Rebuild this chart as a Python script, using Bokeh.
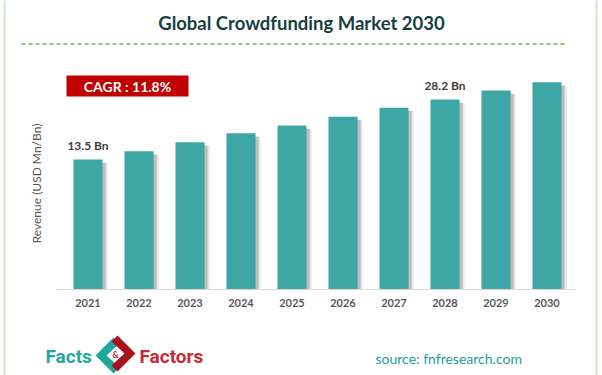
from bokeh.plotting import figure
from bokeh.models import (ColumnDataSource, Range1d, Label, LabelSet, BoxAnnotation,
                          PolyAnnotation)
from bokeh.core.properties import value
from bokeh.transform import dodge
from bokeh.embed import file_html
from bokeh.resources import INLINE

# ---- data ----
years = ["2021", "2022", "2023", "2024", "2025", "2026", "2027", "2028", "2029", "2030"]
revenue = [13.5, 15.5, 17.7, 19.9, 21.8, 24.0, 26.2, 28.2, 30.4, 32.4]
label_years = ["2021", "2028"]
label_values = [13.5, 28.2]
label_texts = ["13.5 Bn", "28.2 Bn"]
axis_start = -18.35          # value at the baseline of the value axis
title_text = "Global Crowdfunding Market 2030"
cagr_text = "CAGR : 11.8%"
y_label = "Revenue (USD Mn/Bn)"
source_text = "source: fnfresearch.com"

W, H = 602, 375
FONT = "Lato"
X0, X1 = -1.7157, 10.0882
Y0, Y1 = -39.42, 52.45

def cx(px):  # canvas pixel -> x data (frame covers the canvas)
    return X0 + px / W * (X1 - X0)

def cy(py):  # canvas pixel (from top) -> y data
    return Y1 - py / H * (Y1 - Y0)

# category index for each year (bars placed by the x scale)
idx = list(range(len(years)))
label_idx = [years.index(y) for y in label_years]

p = figure(width=W, height=H, x_range=Range1d(X0, X1), y_range=Range1d(Y0, Y1),
           output_backend="svg", toolbar_location=None,
           min_border=0, x_axis_type=None, y_axis_type=None)
p.outline_line_color = None
p.background_fill_color = "white"
p.border_fill_color = "white"
p.xgrid.grid_line_color = None
p.ygrid.grid_line_color = None

src = ColumnDataSource(dict(x=idx, value=revenue, year=years))
# soft shadow to the right of each bar
p.vbar(x=dodge("x", 0.1), top=dodge("value", -0.8), bottom=axis_start, width=0.57, source=src,
       fill_color="#b0b0b0", fill_alpha=0.3, line_color=None)
p.vbar(x=dodge("x", 0.06), top=dodge("value", -0.8), bottom=axis_start, width=0.57, source=src,
       fill_color="#8a8a8a", fill_alpha=0.45, line_color=None)
p.vbar(x="x", top="value", bottom=axis_start, width=0.57, source=src,
       fill_color="#3ea7a6", line_color=None)

# category axis line and labels
p.segment(x0=[-0.63], x1=[len(years) - 0.45], y0=[axis_start], y1=[axis_start],
          line_color="#d9d9d9", line_width=1)
p.add_layout(LabelSet(x="x", y=axis_start, text="year", source=src, y_offset=-10,
                      text_align="center", text_baseline="top",
                      text_font=value(FONT), text_font_style="bold", text_font_size="11px",
                      text_color="#595959"))

lsrc = ColumnDataSource(dict(x=label_idx, value=label_values, text=label_texts))
p.add_layout(LabelSet(x="x", y="value", text="text", source=lsrc, y_offset=6,
                      text_align="center", text_baseline="bottom",
                      text_font=value(FONT), text_font_style="bold", text_font_size="12px",
                      text_color="#404040"))

C = dict(left_units="canvas", right_units="canvas", top_units="canvas", bottom_units="canvas")
L = dict(x_units="canvas", y_units="canvas")

p.add_layout(BoxAnnotation(left=4, right=596, top=-10, bottom=400, fill_alpha=0,
                           line_color="#6cb33f", line_width=2, **C))
p.add_layout(Label(x=301, y=22, text=title_text, text_align="center", text_baseline="middle",
                   text_font=FONT, text_font_style="bold", text_font_size="18.5px",
                   text_color="#173f3f", **L))
# dashed separator under the title
p.segment(x0=[cx(21)], x1=[cx(567)], y0=[cy(43.5)], y1=[cy(43.5)],
          line_color="#78b152", line_width=1.5, line_dash="4 3")
p.add_layout(BoxAnnotation(left=66, right=188, top=75, bottom=96, fill_color="#c00000",
                           fill_alpha=1, line_color=None, **C))
p.add_layout(Label(x=127, y=86, text=cagr_text, text_align="center", text_baseline="middle",
                   text_font=FONT, text_font_style="bold", text_font_size="14px",
                   text_color="white", **L))
p.add_layout(Label(x=36, y=183, text=y_label, angle=90, angle_units="deg",
                   text_align="center", text_baseline="middle", text_font=FONT,
                   text_font_size="12px", text_color="#595959", **L))
p.add_layout(Label(x=45, y=356, text="Facts", text_align="left", text_baseline="middle",
                   text_font="Roboto", text_font_style="bold", text_font_size="19px",
                   text_color="#1fa7a0", **L))
p.add_layout(Label(x=139, y=356, text="Factors", text_align="left", text_baseline="middle",
                   text_font="Roboto", text_font_style="bold", text_font_size="19px",
                   text_color="#c62a32", **L))
p.add_layout(PolyAnnotation(xs=[113, 95, 113, 119, 106, 119], ys=[337, 355, 373, 367, 355, 343],
                            xs_units="canvas", ys_units="canvas",
                            fill_color="#1fa7a0", fill_alpha=1, line_color=None))
p.add_layout(PolyAnnotation(xs=[117, 135, 117, 111, 124, 111], ys=[335, 353, 371, 365, 353, 341],
                            xs_units="canvas", ys_units="canvas",
                            fill_color="#a5141c", fill_alpha=1, line_color=None))
p.add_layout(Label(x=115, y=354, text="&", text_align="center", text_baseline="middle",
                   text_font=FONT, text_font_style="bold", text_font_size="9px",
                   text_color="#c62a32", **L))
p.add_layout(Label(x=375, y=358, text=source_text, text_align="left", text_baseline="middle",
                   text_font=FONT, text_font_size="14px", text_color="#1e9e96", **L))

open("out.html", "w").write(file_html(p, INLINE))
